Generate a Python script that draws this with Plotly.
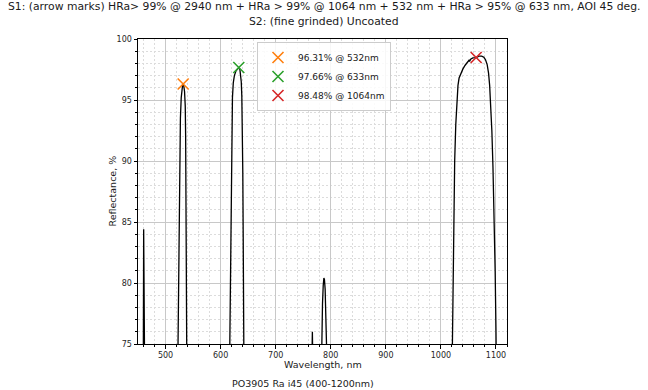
import plotly.graph_objects as go

# Reflectance curve (wavelength nm, reflectance %)
wavelength = [450, 459.4, 460.3, 462.5,
              521.5, 523, 524.5, 525.5, 527, 528.5, 530, 531, 532, 533, 534.5, 535.8, 536.5, 537, 537.6, 538.3, 539,
              615.5, 617, 618.3, 619.2, 620.5, 621.5, 623, 625, 628, 631, 633, 635, 636.5, 637.5, 638.5, 639.5, 640.3, 641, 641.8, 642.5,
              764.5, 765.8, 766.6, 767.4, 768.5,
              782, 783.5, 785, 786.3, 787.5, 788.5, 789.8, 791, 792.3, 793.5, 795,
              1019.5, 1020.8, 1022, 1023, 1025, 1027, 1029, 1031, 1033, 1036, 1040, 1044, 1048, 1050, 1051, 1052, 1054, 1058,
              1064, 1069, 1074, 1078, 1081, 1084, 1086.5, 1088.5, 1090.5, 1092.5, 1094.5, 1096.5, 1098.5, 1100, 1100.8, 1120]
reflectance = [70, 70, 84.4, 70,
               70, 77, 86, 90, 93.5, 95.2, 96.0, 96.25, 96.31, 96.2, 95.7, 94.5, 92, 88, 82, 75, 70,
               70, 76, 85, 90, 93.5, 95.2, 96.4, 97.0, 97.4, 97.62, 97.66, 97.5, 97.1, 96.5, 95.3, 93, 89, 84, 78, 72,
               70, 74.5, 76.0, 74.5, 70,
               70, 75, 78.3, 79.8, 80.4, 80.3, 79.5, 78, 76, 74, 70,
               70, 75, 80, 85, 90, 93, 95, 96.2, 96.8, 97.2, 97.55, 97.85, 98.05, 98.15, 98.25, 98.15, 98.35, 98.45,
               98.48, 98.6, 98.6, 98.5, 98.3, 97.9, 97.2, 96.2, 94.8, 92.5, 89.5, 86, 81, 76, 72, 70]

# Marked points
mark_wl = [532, 633, 1064]
mark_r = [96.31, 97.66, 98.48]
mark_names = ["96.31% @ 532nm", "97.66% @ 633nm", "98.48% @ 1064nm"]
mark_colors = ["#ff7f0e", "#2ca02c", "#d62728"]

title_lines = ["S1: (arrow marks) HRa> 99% @ 2940 nm + HRa > 99% @ 1064 nm + 532 nm + HRa > 95% @ 633 nm, AOI 45 deg.",
               "S2: (fine grinded) Uncoated"]
x_title = "Wavelength, nm"
y_title = "Reflectance, %"
caption = "PO3905 Ra i45 (400-1200nm)"

FONT = "DejaVu Sans"
TXT = "#1a1a1a"

# plot-area pixel geometry (for placing texts)
L, R, T, B = 138, 507, 39, 344
W_PX, H_PX = R - L, B - T


def px(xp):
    return (xp - L) / W_PX


def py(yp):
    return (B - yp) / H_PX


fig = go.Figure()
fig.add_trace(go.Scatter(x=wavelength, y=reflectance, mode="lines",
                         line=dict(color="black", width=1.3), showlegend=False, hoverinfo="skip"))
for wl, r, nm, c in zip(mark_wl, mark_r, mark_names, mark_colors):
    fig.add_trace(go.Scatter(x=[wl], y=[r], mode="markers", name=nm,
                             marker=dict(symbol="x-thin", size=11, color=c,
                                         line=dict(color=c, width=1.6))))

axis_common = dict(showline=True, linecolor="black", linewidth=1, mirror=True,
                   ticks="outside", ticklen=3.5, tickwidth=0.8, tickcolor="black",
                   tickfont=dict(family=FONT, size=8, color="#262626"),
                   showgrid=True, gridcolor="#c8c8c8", gridwidth=0.8, zeroline=False)

minor_common = dict(showgrid=True, gridcolor="#dcdcdc", griddash="2px,2px", gridwidth=0.6,
                    ticks="outside", ticklen=2, tickcolor="black")

annots = [
    dict(text=title_lines[0], x=px(324), y=py(7), font=dict(family=FONT, size=10.8, color=TXT)),
    dict(text=title_lines[1], x=px(324), y=py(21), font=dict(family=FONT, size=10.8, color=TXT)),
    dict(text=x_title, x=px(322.5), y=py(364), font=dict(family=FONT, size=9.5, color=TXT)),
    dict(text=y_title, x=px(112), y=0.5, textangle=-90, font=dict(family=FONT, size=9.5, color=TXT)),
    dict(text=caption, x=px(303), y=py(383), font=dict(family=FONT, size=9.5, color=TXT)),
]
for a in annots:
    a.update(xref="paper", yref="paper", xanchor="center", yanchor="middle", showarrow=False)

fig.update_layout(
    width=648, height=390,
    margin=dict(l=L, r=648 - R, t=T, b=390 - B),
    paper_bgcolor="white", plot_bgcolor="white",
    font=dict(family=FONT, color="#262626"),
    xaxis=dict(range=[450, 1120], dtick=100, tick0=0, minor=dict(dtick=20, **minor_common), **axis_common),
    yaxis=dict(range=[75, 100], dtick=5, tick0=0, minor=dict(dtick=1, **minor_common), **axis_common),
    legend=dict(x=px(257), y=py(42), xanchor="left", yanchor="top",
                bgcolor="rgba(255,255,255,0.85)", bordercolor="#cccccc", borderwidth=1,
                font=dict(family=FONT, size=9, color=TXT), tracegroupgap=0),
    annotations=annots,
)

fig.write_html("out.html", config={"displayModeBar": False},
               post_script="document.body.style.margin='0';document.body.style.overflow='hidden';")
